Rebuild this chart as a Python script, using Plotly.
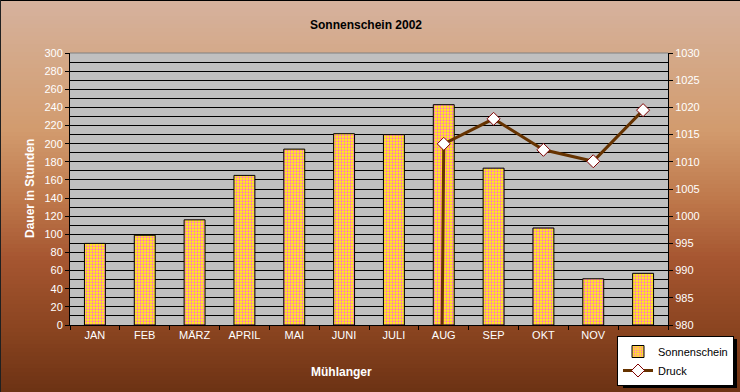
import plotly.graph_objects as go

months = ["JAN", "FEB", "MÄRZ", "APRIL", "MAI", "JUNI", "JULI", "AUG", "SEP", "OKT", "NOV", " "]
sonnenschein = [90, 99, 116, 165, 194, 211, 210, 243, 173, 107, 51, 57]
druck = [0, 0, 0, 0, 0, 0, 0, 1013.3, 1017.9, 1012.2, 1010.1, 1019.5]
left_ticks = list(range(0, 301, 20))
right_ticks = list(range(980, 1031, 5))

W, H = 740, 392
L, R, T, B = 70, 668, 53, 325

def px(x):
    return x / W

def py(y):
    return 1 - y / H

fig = go.Figure()

fig.add_trace(go.Bar(
    x=months, y=sonnenschein, name="Sonnenschein",
    marker=dict(color="#FFFF00", line=dict(color="black", width=1),
                pattern=dict(shape=".", fgcolor="#FF70C8", bgcolor="#FFFF00", size=3, solidity=0.45)),
    yaxis="y",
))
fig.add_trace(go.Scatter(
    x=months, y=druck, name="Druck", mode="lines+markers",
    line=dict(color="#663300", width=3),
    marker=dict(symbol="diamond", size=10, color="white", line=dict(color="#800000", width=1)),
    yaxis="y2", cliponaxis=True,
))

# background gradient
stops = [(0, (214, 178, 158)), (60, (212, 168, 135)), (130, (210, 155, 110)),
         (200, (190, 120, 75)), (260, (165, 85, 48)), (330, (138, 68, 32)), (392, (108, 50, 20))]
shapes = []
N = 98
for i in range(N):
    y0 = i * H / N
    y1 = (i + 1) * H / N
    ym = (y0 + y1) / 2
    for j in range(len(stops) - 1):
        if stops[j][0] <= ym <= stops[j + 1][0]:
            a, ca = stops[j]
            b, cb = stops[j + 1]
            t = (ym - a) / (b - a)
            c = tuple(int(round(ca[k] + (cb[k] - ca[k]) * t)) for k in range(3))
            break
    shapes.append(dict(type="rect", xref="paper", yref="paper", layer="below",
                       x0=0, x1=1, y0=max(0, py(y1 + 0.5)), y1=py(y0),
                       fillcolor="rgb(%d,%d,%d)" % c, line=dict(width=0)))
# gray plot area (drawn above the paper gradient, below gridlines)
shapes.append(dict(type="rect", xref="x domain", yref="y domain", layer="below",
                   x0=0, x1=1, y0=0, y1=1, fillcolor="#C0C0C0", line=dict(width=0)))
# borders of image
shapes.append(dict(type="line", xref="paper", yref="paper", x0=0, x1=1, y0=py(0.5), y1=py(0.5),
                   line=dict(color="black", width=1)))
shapes.append(dict(type="line", xref="paper", yref="paper", x0=px(0.5), x1=px(0.5), y0=0, y1=1,
                   line=dict(color="#202020", width=1)))
# top border of plot
shapes.append(dict(type="line", xref="paper", yref="paper", x0=px(L), x1=px(R), y0=py(T), y1=py(T),
                   line=dict(color="#808080", width=1), layer="above"))
# legend shadow
LG_L, LG_R, LG_T = 620, 734, 336
shapes.append(dict(type="rect", xref="paper", yref="paper", x0=px(LG_L + 3), x1=px(LG_R + 3),
                   y0=py(388), y1=py(LG_T + 3),
                   fillcolor="black", line=dict(width=0), layer="above"))

font = "Liberation Sans, Arial, sans-serif"
fig.update_layout(
    template="none",
    width=W, height=H, autosize=False,
    margin=dict(l=0, r=0, t=0, b=0, pad=0),
    paper_bgcolor="rgb(190,120,75)",
    plot_bgcolor="#C0C0C0",
    font=dict(family=font, size=11, color="white"),
    bargap=0.58,
    showlegend=True,
    legend=dict(x=px(LG_R), y=py(LG_T), xanchor="right", yanchor="top",
                bgcolor="white", bordercolor="black", borderwidth=1,
                font=dict(color="black", size=11, family=font),
                tracegroupgap=0, itemwidth=30),
    xaxis=dict(type="category", domain=[px(L), px(R)], range=[-0.5, 11.5], showline=True,
               linecolor="black", linewidth=1,
               ticks="outside", tickson="boundaries", ticklen=4, tickcolor="black", automargin=False,
               showgrid=False, tickfont=dict(color="white", size=11), fixedrange=True),
    yaxis=dict(range=[0, 300], domain=[py(B), py(T)], tickvals=left_ticks, showline=True,
               linecolor="black", automargin=False,
               ticks="outside", ticklen=4, tickcolor="black",
               showgrid=True, gridcolor="black", gridwidth=1,
               minor=dict(dtick=10, showgrid=True, gridcolor="black", gridwidth=1),
               zeroline=False, tickfont=dict(color="white", size=11)),
    yaxis2=dict(range=[980, 1030], tickvals=right_ticks, overlaying="y", side="right", automargin=False,
                showline=True, linecolor="black", ticks="outside", ticklen=4, tickcolor="black",
                showgrid=False, zeroline=False, tickfont=dict(color="white", size=11)),
    shapes=shapes,
    annotations=[
        dict(text="<b>Sonnenschein 2002</b>", xref="paper", yref="paper", x=px(366), y=py(25),
             xanchor="center", yanchor="middle",
             showarrow=False, font=dict(color="black", size=12, family=font)),
        dict(text="<b>Dauer in Stunden</b>", xref="paper", yref="paper", x=px(30), y=py(189),
             xanchor="center", yanchor="middle",
             showarrow=False, textangle=-90, font=dict(color="white", size=12, family=font)),
        dict(text="<b>Mühlanger</b>", xref="paper", yref="paper", x=px(341), y=py(372),
             xanchor="center", yanchor="middle",
             showarrow=False, font=dict(color="white", size=12, family=font)),
    ],
)

fig.write_html("out.html", config={"responsive": False, "displayModeBar": False},
               post_script="document.body.style.margin='0';document.body.style.overflow='hidden';"
                           "document.documentElement.style.overflow='hidden';")
